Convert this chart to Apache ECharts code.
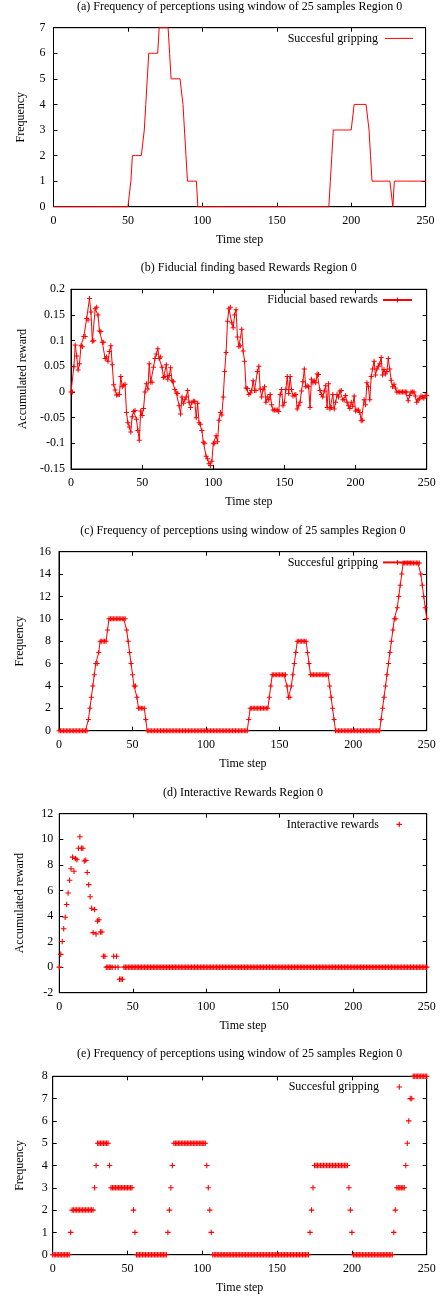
<!DOCTYPE html>
<html>
<head>
<meta charset="utf-8">
<script src="https://cdn.jsdelivr.net/npm/echarts@6/dist/echarts.min.js"></script>
<style>
html,body{margin:0;padding:0;background:#fff;}
#chart{width:441px;height:1299px;}
</style>
</head>
<body>
<div id="chart"></div>
<script>
// ---------------- DATA ----------------
const xTicks = [0, 50, 100, 150, 200, 250];

const titles = [
  '(a) Frequency of perceptions using window of 25 samples Region 0',
  '(b) Fiducial finding based Rewards Region 0',
  '(c) Frequency of perceptions using window of 25 samples Region 0',
  '(d) Interactive Rewards Region 0',
  '(e) Frequency of perceptions using window of 25 samples Region 0'
];
const yTitles = ['Frequency', 'Accumulated reward', 'Frequency', 'Accumulated reward', 'Frequency'];
const xTitle = 'Time step';
const legendNames = ['Succesful gripping', 'Fiducial based rewards', 'Succesful gripping', 'Interactive rewards', 'Succesful gripping'];

const yTicksA = [0, 1, 2, 3, 4, 5, 6, 7];
const yTicksB = [-0.15, -0.1, -0.05, 0, 0.05, 0.1, 0.15, 0.2];
const yTicksC = [0, 2, 4, 6, 8, 10, 12, 14, 16];
const yTicksD = [-2, 0, 2, 4, 6, 8, 10, 12];
const yTicksE = [0, 1, 2, 3, 4, 5, 6, 7, 8];

// (a) successful gripping frequency, one value per time step 0..250
const gripA = [
  0,0,0,0,0,0,0,0,0,0,
  0,0,0,0,0,0,0,0,0,0,
  0,0,0,0,0,0,0,0,0,0,
  0,0,0,0,0,0,0,0,0,0,
  0,0,0,0,0,0,0,0,0,0,
  0,0,1,2,2,2,2,2,2,2,
  2,3,4,5,6,6,6,6,6,6,
  6,7,7,7,7,7,7,7,6,5,
  5,5,5,5,5,5,5,4,3,2,
  1,1,1,1,1,1,1,0,0,0,
  0,0,0,0,0,0,0,0,0,0,
  0,0,0,0,0,0,0,0,0,0,
  0,0,0,0,0,0,0,0,0,0,
  0,0,0,0,0,0,0,0,0,0,
  0,0,0,0,0,0,0,0,0,0,
  0,0,0,0,0,0,0,0,0,0,
  0,0,0,0,0,0,0,0,0,0,
  0,0,0,0,0,0,0,0,0,0,
  0,0,0,0,0,0,1,2,3,3,
  3,3,3,3,3,3,3,3,3,3,
  3,3,4,4,4,4,4,4,4,4,
  4,4,3,2,1,1,1,1,1,1,
  1,1,1,1,1,1,1,1,0,1,
  1,1,1,1,1,1,1,1,1,1,
  1,1,1,1,1,1,1,1,1,1,
  1
];

// (b) fiducial based rewards
const fiducialB = [
  0, 0, 0.049, 0.0915, 0.07, 0.043, 0.055, 0.09, 0.088, 0.108,
  0.108, 0.143, 0.14, 0.182, 0.156, 0.099, 0.1, 0.162, 0.165, 0.15,
  0.119, 0.118, 0.097, 0.097, 0.065, 0.068, 0.06, 0.079, 0.09, 0.053,
  0.014, 0.004, -0.006, -0.005, -0.005, 0.03, 0.01, 0.013, 0.015, -0.04,
  -0.06, -0.068, -0.078, -0.048, -0.038, -0.036, -0.053, -0.075, -0.094, -0.037,
  -0.046, -0.032, 0, 0.016, 0.006, 0.055, 0.019, 0.019, 0.048, 0.065,
  0.074, 0.084, 0.065, 0.068, 0.048, 0.028, 0.03, 0.053, 0.025, 0.032,
  0.047, 0.022, 0.02, 0.005, -0.002, -0.003, -0.027, -0.043, -0.01, -0.022,
  -0.015, -0.01, 0.003, -0.02, -0.03, -0.02, -0.018, -0.018, -0.05, -0.022,
  -0.06, -0.063, -0.075, -0.098, -0.1, -0.125, -0.13, -0.14, -0.143, -0.135,
  -0.1, -0.1, -0.085, -0.097, -0.055, -0.04, -0.045, -0.01, 0.04, 0.077,
  0.138, 0.162, 0.165, 0.135, 0.125, 0.15, 0.16, 0.107, 0.088, 0.09,
  0.122, 0.08, 0.06, 0.008, 0.007, -0.005, -0.002, 0.003, 0.022, 0.003,
  0.003, 0.04, 0.05, 0.006, -0.01, 0.005, 0.01, -0.02, -0.01, -0.015,
  -0.005, -0.025, -0.035, -0.035, -0.035, -0.035, -0.038, -0.005, 0.005, -0.027,
  -0.02, 0.005, 0.03, -0.003, 0.03, 0.005, -0.008, -0.006, -0.005, -0.033,
  -0.027, -0.02, 0.002, 0.02, 0.045, 0.01, 0.012, 0.01, -0.03, 0.025,
  0.018, 0.022, 0.018, 0.035, 0.034, 0.003, -0.005, -0.01, 0.002, 0.012,
  -0.03, 0.016, -0.033, -0.03, -0.005, -0.033, -0.02, -0.005, -0.01, 0.002,
  0.003, -0.015, -0.015, -0.007, -0.02, -0.027, -0.032, -0.02, -0.028, -0.008,
  -0.037, -0.035, -0.035, -0.04, -0.056, -0.055, -0.015, -0.025, 0.018, 0.01,
  -0.015, 0.03, 0.045, 0.06, 0.033, 0.045, 0.05, 0.055, 0.067, 0.033,
  0.044, 0.035, 0.04, 0.065, 0.045, 0.023, 0.01, 0.015, 0.008, 0,
  0, 0, 0, 0, 0, 0, 0, -0.017, -0.007, 0,
  0, 0, -0.008, -0.02, -0.015, -0.013, -0.008, -0.01, -0.012, -0.007,
  -0.007
];

// (c) successful gripping frequency
const gripC = [
  0,0,0,0,0,0,0,0,0,0,
  0,0,0,0,0,0,0,0,0,0,
  1,2,3,4,5,6,6,7,8,8,
  8,8,8,9,10,10,10,10,10,10,
  10,10,10,10,10,10,9,8,7,6,
  5,4,4,3,2,2,2,2,2,1,
  0,0,0,0,0,0,0,0,0,0,
  0,0,0,0,0,0,0,0,0,0,
  0,0,0,0,0,0,0,0,0,0,
  0,0,0,0,0,0,0,0,0,0,
  0,0,0,0,0,0,0,0,0,0,
  0,0,0,0,0,0,0,0,0,0,
  0,0,0,0,0,0,0,0,0,1,
  2,2,2,2,2,2,2,2,2,2,
  2,2,2,3,4,5,5,5,5,5,
  5,5,5,5,5,4,3,3,4,5,
  6,7,8,8,8,8,8,8,8,7,
  6,5,5,5,5,5,5,5,5,5,
  5,5,5,5,4,3,2,1,0,0,
  0,0,0,0,0,0,0,0,0,0,
  0,0,0,0,0,0,0,0,0,0,
  0,0,0,0,0,0,0,0,0,1,
  2,3,4,5,6,7,8,9,10,10,
  11,12,13,14,15,15,15,15,15,15,
  15,15,15,15,15,15,14,13,12,11,
  10
];

// (d) interactive rewards
const interactiveD = [
  0, 1, 2, 3, 3.9, 4.9, 5.8, 6.8, 7.7, 8.6,
  7.5, 8.5, 8.4, 9.3, 10.2, 9.3, 9.3, 8.3, 8.35, 7.4,
  6.45, 5.5, 4.6, 2.7, 4.5, 2.6, 3.6, 3.7, 2.75, 2.75,
  0.85, 0.85, 0, 0, 0, 0, 0, 0.85, 0, 0.85,
  0, -0.95, -0.95, -0.95, 0, 0, 0, 0, 0, 0,
  0,0,0,0,0,0,0,0,0,0,
  0,0,0,0,0,0,0,0,0,0,
  0,0,0,0,0,0,0,0,0,0,
  0,0,0,0,0,0,0,0,0,0,
  0,0,0,0,0,0,0,0,0,0,
  0,0,0,0,0,0,0,0,0,0,
  0,0,0,0,0,0,0,0,0,0,
  0,0,0,0,0,0,0,0,0,0,
  0,0,0,0,0,0,0,0,0,0,
  0,0,0,0,0,0,0,0,0,0,
  0,0,0,0,0,0,0,0,0,0,
  0,0,0,0,0,0,0,0,0,0,
  0,0,0,0,0,0,0,0,0,0,
  0,0,0,0,0,0,0,0,0,0,
  0,0,0,0,0,0,0,0,0,0,
  0,0,0,0,0,0,0,0,0,0,
  0,0,0,0,0,0,0,0,0,0,
  0,0,0,0,0,0,0,0,0,0,
  0,0,0,0,0,0,0,0,0,0,
  0,0,0,0,0,0,0,0,0,0,
  0
];

// (e) successful gripping frequency
const gripE = [
  0,0,0,0,0,0,0,0,0,0,
  0,0,1,2,2,2,2,2,2,2,
  2,2,2,2,2,2,2,2,3,4,
  5,5,5,5,5,5,5,5,4,3,
  3,3,3,3,3,3,3,3,3,3,
  3,3,3,3,2,1,0,0,0,0,
  0,0,0,0,0,0,0,0,0,0,
  0,0,0,0,0,0,0,1,2,3,
  4,5,5,5,5,5,5,5,5,5,
  5,5,5,5,5,5,5,5,5,5,
  5,5,5,4,3,2,1,0,0,0,
  0,0,0,0,0,0,0,0,0,0,
  0,0,0,0,0,0,0,0,0,0,
  0,0,0,0,0,0,0,0,0,0,
  0,0,0,0,0,0,0,0,0,0,
  0,0,0,0,0,0,0,0,0,0,
  0,0,0,0,0,0,0,0,0,0,
  0,0,1,2,3,4,4,4,4,4,
  4,4,4,4,4,4,4,4,4,4,
  4,4,4,4,4,4,4,4,3,2,
  1,0,0,0,0,0,0,0,0,0,
  0,0,0,0,0,0,0,0,0,0,
  0,0,0,0,0,0,0,0,1,2,
  3,3,3,3,3,3,4,5,6,7,
  7,8,8,8,8,8,8,8,8,8,
  8
];

// ---------------- LAYOUT / STYLE ----------------
const FONT = '"Liberation Serif", "Times New Roman", serif';
const RED = '#ff0000';
const PLUS = 'path://M4,0H6V4H10V6H6V10H4V6H0V4H4Z';

const panels = [
  { values: gripA, yTicks: yTicksA, kind: 'line', l: 53.5, r: 425.6, t: 27.7, b: 206.7, titleY: 7,   yGap: 27, yLabMargin: 8 },
  { values: fiducialB, yTicks: yTicksB, kind: 'lineMark', l: 71, r: 426.7, t: 289.3, b: 469, titleY: 268, yGap: 39, yLabMargin: 6 },
  { values: gripC, yTicks: yTicksC, kind: 'lineMark', l: 59, r: 426.7, t: 551.7, b: 730.7, titleY: 530.7, yGap: 33, yLabMargin: 8 },
  { values: interactiveD, yTicks: yTicksD, kind: 'points', l: 59.3, r: 426.7, t: 813.7, b: 992.7, titleY: 793, yGap: 33, yLabMargin: 6 },
  { values: gripE, yTicks: yTicksE, kind: 'points', l: 52.7, r: 426.7, t: 1076.3, b: 1254.7, titleY: 1054, yGap: 27, yLabMargin: 5 }
];

const W = 441;
const grid = [], xAxis = [], yAxis = [], series = [], legend = [], graphic = [];
const axisLineStyle = { color: '#000', width: 1 };
const labelStyle = { fontFamily: FONT, fontSize: 12, color: '#000' };
const tickText = v => String(+Number(v).toFixed(6));

panels.forEach((p, k) => {
  grid.push({ left: p.l, top: p.t, width: p.r - p.l, height: p.b - p.t,
              show: true, borderColor: '#000', borderWidth: 1, backgroundColor: 'transparent' });
  const xmin = xTicks[0], xmax = xTicks[xTicks.length - 1], xint = xTicks[1] - xTicks[0];
  const ymin = p.yTicks[0], ymax = p.yTicks[p.yTicks.length - 1], yint = p.yTicks[1] - p.yTicks[0];
  const baseX = {
    gridIndex: k, type: 'value', min: xmin, max: xmax, interval: xint,
    splitLine: { show: false },
    axisLine: { show: true, onZero: false, lineStyle: axisLineStyle },
    axisTick: { show: true, inside: true, length: 4, lineStyle: axisLineStyle }
  };
  xAxis.push(Object.assign({}, baseX, {
    position: 'bottom',
    axisLabel: Object.assign({ margin: 8, formatter: tickText }, labelStyle),
    name: xTitle, nameLocation: 'middle', nameGap: 27,
    nameTextStyle: labelStyle
  }));
  xAxis.push(Object.assign({}, baseX, { position: 'top', axisLabel: { show: false } }));
  const baseY = {
    gridIndex: k, type: 'value', min: ymin, max: ymax, interval: yint,
    splitLine: { show: false },
    axisLine: { show: true, onZero: false, lineStyle: axisLineStyle },
    axisTick: { show: true, inside: true, length: 4, lineStyle: axisLineStyle }
  };
  yAxis.push(Object.assign({}, baseY, {
    position: 'left',
    axisLabel: Object.assign({ margin: p.yLabMargin, formatter: tickText }, labelStyle),
    name: yTitles[k], nameLocation: 'middle', nameGap: p.yGap, nameRotate: 90,
    nameTextStyle: labelStyle
  }));
  yAxis.push(Object.assign({}, baseY, { position: 'right', axisLabel: { show: false } }));

  const sid = 'panel' + k;
  const pts = p.values.map((v, i) => [i, v]);
  const s = { id: sid, name: sid, xAxisIndex: 2 * k, yAxisIndex: 2 * k, data: pts,
              animation: false, color: RED, emphasis: { disabled: true },
              itemStyle: { color: RED, borderColor: RED, borderWidth: 0, opacity: 1 } };
  if (p.kind === 'line') {
    Object.assign(s, { type: 'line', symbol: 'none', clip: false, lineStyle: { color: RED, width: 1 } });
  } else if (p.kind === 'lineMark') {
    Object.assign(s, { type: 'line', symbol: PLUS, symbolSize: 5, showSymbol: true, showAllSymbol: true,
                       lineStyle: { color: RED, width: 1 } });
  } else {
    Object.assign(s, { type: 'scatter', symbol: PLUS, symbolSize: 5.5 });
  }
  series.push(s);

  const lgText = Object.assign({ lineHeight: 12 }, labelStyle);
  const lg = { data: [{ name: sid }], formatter: () => legendNames[k], orient: 'horizontal',
               align: 'right', top: p.t + 10.7 - 6, padding: 0, selectedMode: false,
               textStyle: lgText };
  if (p.kind === 'line') {
    Object.assign(lg, { right: W - 413, itemWidth: 28, itemHeight: 1 });
    lg.data = [{ name: sid, icon: 'rect' }];
    lgText.padding = [0, 2, 0, 0];
  } else if (p.kind === 'lineMark') {
    Object.assign(lg, { right: W - 413, itemWidth: 29, itemHeight: 6.25 });
  } else {
    Object.assign(lg, { right: W - 402, itemWidth: 5.5, itemHeight: 5.5 });
    lgText.padding = [0, 12.5, 0, 0];
  }
  legend.push(lg);

  graphic.push({ type: 'text', x: (p.l + p.r) / 2, y: p.titleY,
    style: { text: titles[k], font: '12px ' + FONT, fill: '#000',
             textAlign: 'center', textVerticalAlign: 'middle', align: 'center', verticalAlign: 'middle' } });
});

const chart = echarts.init(document.getElementById('chart'), null, { renderer: 'canvas', width: 441, height: 1299 });
chart.setOption({
  backgroundColor: '#ffffff',
  animation: false,
  grid, xAxis, yAxis, series, legend, graphic
});
</script>
</body>
</html>
